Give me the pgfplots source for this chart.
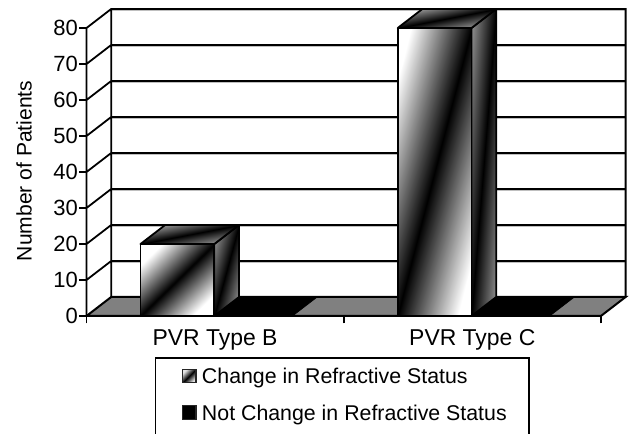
\documentclass[border=0pt]{standalone}
\usepackage{fontspec}
\setmainfont{Liberation Sans}
\usepackage{pgfplots}
\pgfplotsset{compat=1.18}
\pgfdeclareverticalshading{mirfront}{100bp}{color(0bp)=(white); color(25bp)=(white); color(50bp)=(black); color(75bp)=(white); color(100bp)=(white)}
\pgfdeclareverticalshading{mirside}{100bp}{color(0bp)=(black!45); color(25bp)=(black!45); color(50bp)=(black); color(75bp)=(black!45); color(100bp)=(black!45)}
\pgfdeclareverticalshading{mirtop}{100bp}{color(0bp)=(black!35); color(25bp)=(black!35); color(50bp)=(black); color(75bp)=(black!35); color(100bp)=(black!35)}
\pgfdeclareverticalshading{mirleg}{100bp}{color(0bp)=(black!10); color(25bp)=(black!10); color(50bp)=(black); color(75bp)=(black!10); color(100bp)=(black!10)}
\begin{document}
\begin{tikzpicture}
\useasboundingbox (-64.875pt,-88.5pt) rectangle (406.875pt,237pt);
\begin{axis}[
  scale only axis, width=404.33pt, height=230.25pt,
  xmin=0, xmax=2.096, ymin=0, ymax=85.278,
  clip=false,
  axis line style={draw=none},
  xtick={0,1,2}, xticklabels={,,},
  extra x ticks={0.5,1.5},
  extra x tick labels={PVR Type B,PVR Type C},
  extra x tick style={major tick length=0pt, tick label style={yshift=-6.5pt}},
  ytick={0,10,20,30,40,50,60,70,80},
  tick align=outside, xtick pos=bottom, ytick pos=left,
  major tick length=5.5pt,
  every tick/.style={black, line width=1.2pt},
  tick label style={font=\fontsize{16.5pt}{18pt}\selectfont},
  x tick label style={font=\fontsize{17.2pt}{18pt}\selectfont},
  y tick label style={inner sep=0.8pt},
  /pgf/number format/assume math mode=true,
  ylabel={Number of Patients},
  every axis y label/.style={at={(axis cs:-0.243,40.3)}, anchor=center, rotate=90, font=\fontsize{15.8pt}{18pt}\selectfont},
  unbounded coords=jump,
]
% grid shadows
\addplot[forget plot, line width=0.8pt, black!25] coordinates {
(0.096,14.9) (2.096,14.9) (nan,nan)
(0.096,24.9) (2.096,24.9) (nan,nan)
(0.096,34.9) (2.096,34.9) (nan,nan)
(0.096,44.9) (2.096,44.9) (nan,nan)
(0.096,54.9) (2.096,54.9) (nan,nan)
(0.096,64.9) (2.096,64.9) (nan,nan)
(0.096,74.9) (2.096,74.9) (nan,nan)
(0.096,84.9) (2.096,84.9)
};
% grid: back wall and side wall
\addplot[forget plot, line width=1.35pt, black] coordinates {
(0,10) (0.096,15.278) (2.096,15.278) (nan,nan)
(0,20) (0.096,25.278) (2.096,25.278) (nan,nan)
(0,30) (0.096,35.278) (2.096,35.278) (nan,nan)
(0,40) (0.096,45.278) (2.096,45.278) (nan,nan)
(0,50) (0.096,55.278) (2.096,55.278) (nan,nan)
(0,60) (0.096,65.278) (2.096,65.278) (nan,nan)
(0,70) (0.096,75.278) (2.096,75.278) (nan,nan)
(0,80) (0.096,85.278) (2.096,85.278) (2.096,5.278) (nan,nan)
(0.096,5.278) (0.096,85.278) (nan,nan)
(0,0) (0,80)
};
% floor
\addplot[forget plot, fill=black!50, draw=black, line width=1.5pt] coordinates {(0,0) (0.096,5.278) (2.096,5.278) (2,0)} --cycle;
% second series: flat black (value 0)
\addplot[forget plot, fill=black, draw=black, line width=0.5pt] coordinates {(0.497,0) (0.593,5.278) (0.897,5.278) (0.801,0)} --cycle;
\addplot[forget plot, fill=black, draw=black, line width=0.5pt] coordinates {(1.497,0) (1.593,5.278) (1.897,5.278) (1.801,0)} --cycle;
% bar B: value 20
\addplot[forget plot, draw=black, line width=1.35pt, shade, shading=mirside, shading angle=74.8, line join=round] coordinates {(0.497,0) (0.593,5.278) (0.593,25.278) (0.497,20)} --cycle;
\addplot[forget plot, draw=black, line width=1.35pt, shade, shading=mirtop, shading angle=10.9, line join=round] coordinates {(0.21,20) (0.306,25.278) (0.593,25.278) (0.497,20)} --cycle;
\addplot[forget plot, draw=black, line width=1.35pt, shade, shading=mirfront, shading angle=44.2, line join=round] coordinates {(0.21,0) (0.21,20) (0.497,20) (0.497,0)} --cycle;
% bar C: value 80
\addplot[forget plot, draw=black, line width=1.35pt, shade, shading=mirside, shading angle=85.4, line join=round] coordinates {(1.497,0) (1.593,5.278) (1.593,85.278) (1.497,80)} --cycle;
\addplot[forget plot, draw=black, line width=1.35pt, shade, shading=mirtop, shading angle=10.9, line join=round] coordinates {(1.21,80) (1.306,85.278) (1.593,85.278) (1.497,80)} --cycle;
\addplot[forget plot, draw=black, line width=1.35pt, shade, shading=mirfront, shading angle=75.6, line join=round] coordinates {(1.21,0) (1.21,80) (1.497,80) (1.497,0)} --cycle;
% front edge
\addplot[forget plot, line width=1.5pt, black] coordinates {(0,0) (2,0)};
% legend frame, open at the foot of the picture
\addplot[forget plot, line width=1.35pt, black] coordinates {(0.268,-32.78) (0.268,-11.67) (1.719,-11.67) (1.719,-32.78)};
% legend swatches
\addplot[forget plot, draw=black!85, line width=0.9pt, shade, shading=mirleg, shading angle=45] coordinates {(0.373,-18.4) (0.373,-14.9) (0.426,-14.9) (0.426,-18.4)} --cycle;
\addplot[forget plot, fill=black, draw=black!85, line width=0.9pt] coordinates {(0.373,-28.7) (0.373,-24.9) (0.426,-24.9) (0.426,-28.7)} --cycle;
\node[anchor=base west, inner sep=0pt, font=\fontsize{16pt}{18pt}\selectfont] at (axis cs:0.448,-18.7) {Change in Refractive Status};
\node[anchor=base west, inner sep=0pt, font=\fontsize{16pt}{18pt}\selectfont] at (axis cs:0.448,-28.9) {Not Change in Refractive Status};
\end{axis}
\end{tikzpicture}
\end{document}
